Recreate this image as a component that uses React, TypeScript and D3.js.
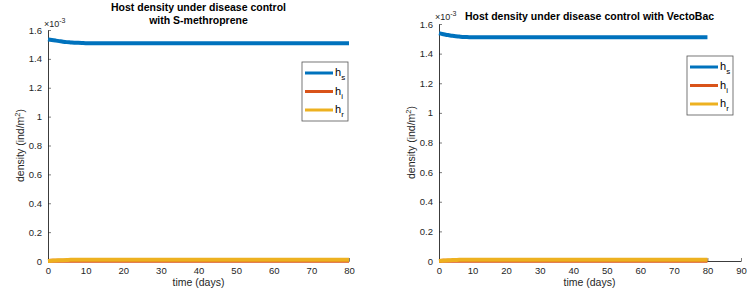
import * as d3 from 'd3';
import React, { useRef, useEffect } from 'react';

// time points (days)
const timeDays = [0, 1, 2, 3, 4, 5, 6, 7, 8, 9, 10, 12, 15, 20, 30, 40, 50, 60, 70, 80];

// densities in units of 1e-3 ind/m^2
const hsMethoprene = [1.535, 1.531, 1.527, 1.523, 1.519, 1.516, 1.514, 1.512, 1.511, 1.510, 1.509, 1.509, 1.508, 1.508, 1.508, 1.508, 1.508, 1.508, 1.508, 1.508];
const hiMethoprene = [0, 0.001, 0.002, 0.002, 0.002, 0.002, 0.002, 0.002, 0.002, 0.002, 0.002, 0.002, 0.002, 0.002, 0.002, 0.002, 0.002, 0.002, 0.002, 0.002];
const hrMethoprene = [0, 0.002, 0.004, 0.005, 0.006, 0.007, 0.008, 0.008, 0.009, 0.009, 0.009, 0.009, 0.009, 0.009, 0.009, 0.009, 0.009, 0.009, 0.009, 0.009];

const hsVectobac = [1.538, 1.533, 1.528, 1.524, 1.520, 1.517, 1.515, 1.513, 1.512, 1.511, 1.511, 1.510, 1.510, 1.510, 1.510, 1.510, 1.510, 1.510, 1.510, 1.510];
const hiVectobac = [0, 0.001, 0.002, 0.002, 0.002, 0.002, 0.002, 0.002, 0.002, 0.002, 0.002, 0.002, 0.002, 0.002, 0.002, 0.002, 0.002, 0.002, 0.002, 0.002];
const hrVectobac = [0, 0.002, 0.004, 0.005, 0.006, 0.007, 0.008, 0.008, 0.009, 0.009, 0.009, 0.009, 0.009, 0.009, 0.009, 0.009, 0.009, 0.009, 0.009, 0.009];

const yTicks = [0, 0.2, 0.4, 0.6, 0.8, 1, 1.2, 1.4, 1.6];
const seriesNames = ['s', 'i', 'r'];
const colors = ['#0072BD', '#D95319', '#EDB120'];

const FONT = 'Liberation Sans, Arial, Helvetica, sans-serif';
const INK = '#262626';

function Panel({ x0, x1, yTop, yBottom, xMax, title, titleY, expY, legend, series }) {
  const xRef = useRef(null);
  const yRef = useRef(null);
  const xScale = d3.scaleLinear().domain([0, xMax]).range([x0, x1]);
  const yScale = d3.scaleLinear().domain([0, 1.6]).range([yBottom, yTop]);

  useEffect(() => {
    const xa = d3.axisBottom(xScale).ticks(xMax / 10).tickSizeInner(-3).tickSizeOuter(0).tickPadding(6);
    d3.select(xRef.current).call(xa);
    const ya = d3.axisLeft(yScale).tickValues(yTicks).tickFormat(d3.format('~g')).tickSizeInner(-3).tickSizeOuter(0).tickPadding(6);
    d3.select(yRef.current).call(ya);
    [xRef.current, yRef.current].forEach(el => {
      const g = d3.select(el);
      g.attr('font-family', FONT).attr('font-size', 9.5);
      g.selectAll('text').attr('fill', INK);
      g.selectAll('line').attr('stroke', INK).attr('stroke-width', 0.6);
      g.select('.domain').attr('stroke', INK).attr('stroke-width', 0.9);
    });
  }, []);

  const line = d3.line().x((d, i) => xScale(timeDays[i])).y(d => yScale(d)).curve(d3.curveMonotoneX);

  return (
    <g>
      <g ref={xRef} transform={`translate(0,${yBottom})`} />
      <g ref={yRef} transform={`translate(${x0},0)`} />
      {series.map((s, k) => (
        <path key={k} d={line(s)} fill="none" stroke={colors[k]} strokeWidth={4} />
      ))}
      {title.map((t, k) => (
        <text key={k} x={(x0 + (x0 + 301)) / 2 + (k === 0 && title.length === 1 ? 0 : 0)} y={titleY + k * 13}
          textAnchor="middle" fontFamily={FONT} fontSize={10.5} fontWeight="bold" fill="#000">{t}</text>
      ))}
      <text x={x0 - 4} y={expY} fontFamily={FONT} fontSize={9} fill={INK}>
        ×10<tspan dy={-4} fontSize={7}>-3</tspan>
      </text>
      <text x={(x0 + x0 + 301) / 2} y={yBottom + 25} textAnchor="middle" fontFamily={FONT} fontSize={10.5} fill={INK}>time (days)</text>
      <text transform={`translate(${x0 - 24},${(yTop + yBottom) / 2}) rotate(-90)`} textAnchor="middle" fontFamily={FONT} fontSize={10.5} fill={INK}>
        density (ind/m<tspan dy={-4} fontSize={7.5}>2</tspan><tspan dy={4}>)</tspan>
      </text>
      <rect x={legend.x} y={legend.y} width={46} height={59} fill="#fff" stroke="#555" strokeWidth={0.8} />
      {seriesNames.map((n, k) => (
        <g key={n}>
          <line x1={legend.x + 3} x2={legend.x + 31} y1={legend.y + 11 + k * 18.5} y2={legend.y + 11 + k * 18.5} stroke={colors[k]} strokeWidth={3} />
          <text x={legend.x + 33} y={legend.y + 14 + k * 18.5} fontFamily={FONT} fontSize={11} fill="#000">
            h<tspan dy={4} fontSize={8}>{n}</tspan>
          </text>
        </g>
      ))}
    </g>
  );
}

export default function App() {
  return (
    <svg width={756} height={296} style={{ position: 'absolute', left: 0, top: 0, background: '#fff' }}>
      <Panel x0={48} x1={349} yTop={30} yBottom={261} xMax={80}
        title={['Host density under disease control', 'with S-methroprene']} titleY={11} expY={27}
        legend={{ x: 302, y: 62 }} series={[hsMethoprene, hiMethoprene, hrMethoprene]} />
      <Panel x0={439} x1={741} yTop={24} yBottom={261} xMax={90}
        title={['Host density under disease control with VectoBac']} titleY={20} expY={20}
        legend={{ x: 687, y: 56 }} series={[hsVectobac, hiVectobac, hrVectobac]} />
    </svg>
  );
}
